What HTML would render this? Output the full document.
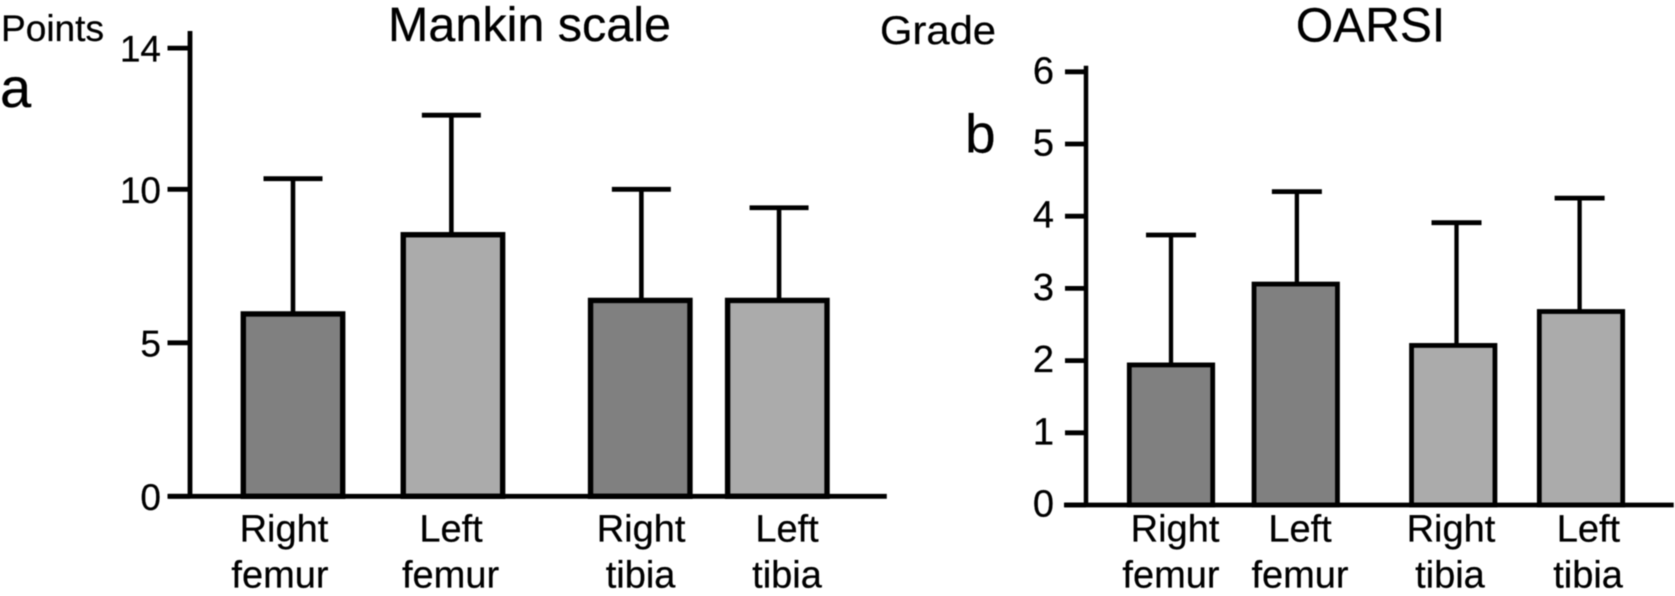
<!DOCTYPE html>
<html lang="en">
<head>
<meta charset="utf-8">
<title>Mankin scale and OARSI</title>
<style>
html,body{margin:0;padding:0;background:#fff;width:1675px;height:596px;overflow:hidden}
svg{display:block;filter:blur(0.4px)}
text{font-family:"Liberation Sans",Arial,sans-serif;fill:#000;stroke:#000;stroke-width:0.25px}
</style>
</head>
<body>
<svg id="chart" xmlns="http://www.w3.org/2000/svg" width="1675" height="596" viewBox="0 0 1675 596">
  <rect x="0" y="0" width="1675" height="596" fill="#fff"/>
  <text x="1" y="41" font-size="37" textLength="103" lengthAdjust="spacingAndGlyphs">Points</text>
  <text x="0" y="107" font-size="56">a</text>
  <text x="529.5" y="41" font-size="48" text-anchor="middle" textLength="283" lengthAdjust="spacingAndGlyphs">Mankin scale</text>
  <text x="880" y="44" font-size="40" textLength="116" lengthAdjust="spacingAndGlyphs">Grade</text>
  <text x="965" y="152.5" font-size="55">b</text>
  <text x="1370.5" y="41.5" font-size="48" text-anchor="middle">OARSI</text>
  <g id="panel-a"></g>
  <g id="panel-b"></g>
</svg>
<script>
// Shared categories
const categoryLinesTop = ['Right', 'Left', 'Right', 'Left'];
const categoryLinesBottom = ['femur', 'femur', 'tibia', 'tibia'];

// Panel a: Mankin scale
const ticksA = [0, 5, 10, 14];
const meansA = [5.94, 8.52, 6.38, 6.38];
const errorTopsA = [10.3, 12.1, 10.0, 9.4];
const fillsA = ['#808080', '#ababab', '#808080', '#ababab'];
const barSlotsA = [0, 1.006, 2.184, 3.046];
const errorSlotsA = [0, 0.996, 2.191, 3.057];
const labelSlotsTopA = [-0.057, 0.994, 2.189, 3.107];
const labelSlotsBottomA = [-0.082, 0.991, 2.186, 3.107];

// Panel b: OARSI
const ticksB = [0, 1, 2, 3, 4, 5, 6];
const meansB = [1.94, 3.06, 2.21, 2.68];
const errorTopsB = [3.74, 4.34, 3.91, 4.25];
const fillsB = ['#808080', '#808080', '#ababab', '#ababab'];
const barSlotsB = [0, 0.99, 2.24, 3.254];
const errorSlotsB = [0, 0.999, 2.266, 3.243];
const labelSlotsTopB = [0.032, 1.024, 2.222, 3.313];
const labelSlotsBottomB = [0, 1.024, 2.214, 3.31];

const SVG_NS = 'http://www.w3.org/2000/svg';

function make(parent, tag, attrs, text) {
  const el = document.createElementNS(SVG_NS, tag);
  Object.keys(attrs).forEach(function (k) { el.setAttribute(k, attrs[k]); });
  if (text !== undefined) el.textContent = text;
  parent.appendChild(el);
  return el;
}

// Panel a's printed axis is not uniform above 10, so the scale has two segments.
function yA(v) {
  return v <= 10 ? 496.3 - 30.7 * v : 189.3 - 35.3 * (v - 10);
}
function yB(v) {
  return 505 - 72.2 * v;
}
function xA(slot) {
  return 293 + 159 * slot;
}
function xB(slot) {
  return 1171 + 126 * slot;
}

function drawPanel(root, cfg) {
  const key = cfg.key;
  const baseline = cfg.y(0);

  cfg.means.forEach(function (mean, i) {
    const cx = cfg.x(cfg.barSlots[i]);
    const ex = cfg.x(cfg.errorSlots[i]);
    const top = cfg.y(mean);
    const capY = cfg.y(cfg.errorTops[i]);
    const slug = categoryLinesTop[i].toLowerCase() + '-' + categoryLinesBottom[i];

    const stem = make(root, 'line', { x1: ex, x2: ex, y1: top, y2: capY, stroke: '#000', 'stroke-width': cfg.stemWidth });
    
    

    const cap = make(root, 'line', { x1: ex - cfg.capHalf, x2: ex + cfg.capHalf, y1: capY, y2: capY, stroke: '#000', 'stroke-width': 4.8 });
    
    

    const bar = make(root, 'rect', { x: cx - cfg.barHalf, y: top, width: cfg.barHalf * 2, height: baseline - top, fill: cfg.fills[i], stroke: '#000', 'stroke-width': cfg.barStroke });
    
    

    const topLabel = make(root, 'text', { x: cfg.x(cfg.labelSlotsTop[i]), y: 541.7, 'font-size': 38, 'text-anchor': 'middle' }, categoryLinesTop[i]);
    
    

    const bottomLabel = make(root, 'text', { x: cfg.x(cfg.labelSlotsBottom[i]), y: 587.7, 'font-size': 38, 'text-anchor': 'middle' }, categoryLinesBottom[i]);
    
    
  });

  const yAxis = make(root, 'line', { x1: cfg.axisX, x2: cfg.axisX, y1: cfg.axisTop, y2: baseline, stroke: '#000', 'stroke-width': cfg.axisWidth });
  
  

  const xAxis = make(root, 'line', { x1: cfg.xAxisStart, x2: cfg.xAxisEnd, y1: baseline, y2: baseline, stroke: '#000', 'stroke-width': 4.8 });
  
  

  cfg.ticks.forEach(function (t) {
    const ty = cfg.y(t);
    const tick = make(root, 'line', { x1: cfg.tickStart, x2: cfg.axisX, y1: ty, y2: ty, stroke: '#000', 'stroke-width': 4.8 });
    
    

    const label = make(root, 'text', { x: cfg.tickLabelX, y: ty + cfg.tickLabelDy, 'font-size': cfg.tickFontSize, 'text-anchor': 'end' }, String(t));
    
    
  });
}

drawPanel(document.getElementById('panel-a'), {
  key: 'panel-a', x: xA, y: yA, ticks: ticksA, means: meansA, errorTops: errorTopsA, fills: fillsA,
  barSlots: barSlotsA, errorSlots: errorSlotsA, labelSlotsTop: labelSlotsTopA, labelSlotsBottom: labelSlotsBottomA,
  barHalf: 49.7, barStroke: 5.4, stemWidth: 4.6, capHalf: 29.5, axisX: 190, axisTop: 31, axisWidth: 4.8,
  xAxisStart: 168.6, xAxisEnd: 886.8, tickStart: 167.5, tickLabelX: 161, tickLabelDy: 13.6, tickFontSize: 37
});

drawPanel(document.getElementById('panel-b'), {
  key: 'panel-b', x: xB, y: yB, ticks: ticksB, means: meansB, errorTops: errorTopsB, fills: fillsB,
  barSlots: barSlotsB, errorSlots: errorSlotsB, labelSlotsTop: labelSlotsTopB, labelSlotsBottom: labelSlotsBottomB,
  barHalf: 41.7, barStroke: 4.8, stemWidth: 4.3, capHalf: 25, axisX: 1086, axisTop: 65.7, axisWidth: 4.5,
  xAxisStart: 1064, xAxisEnd: 1673.7, tickStart: 1065, tickLabelX: 1054, tickLabelDy: 11.5, tickFontSize: 38
});
</script>
</body>
</html>
